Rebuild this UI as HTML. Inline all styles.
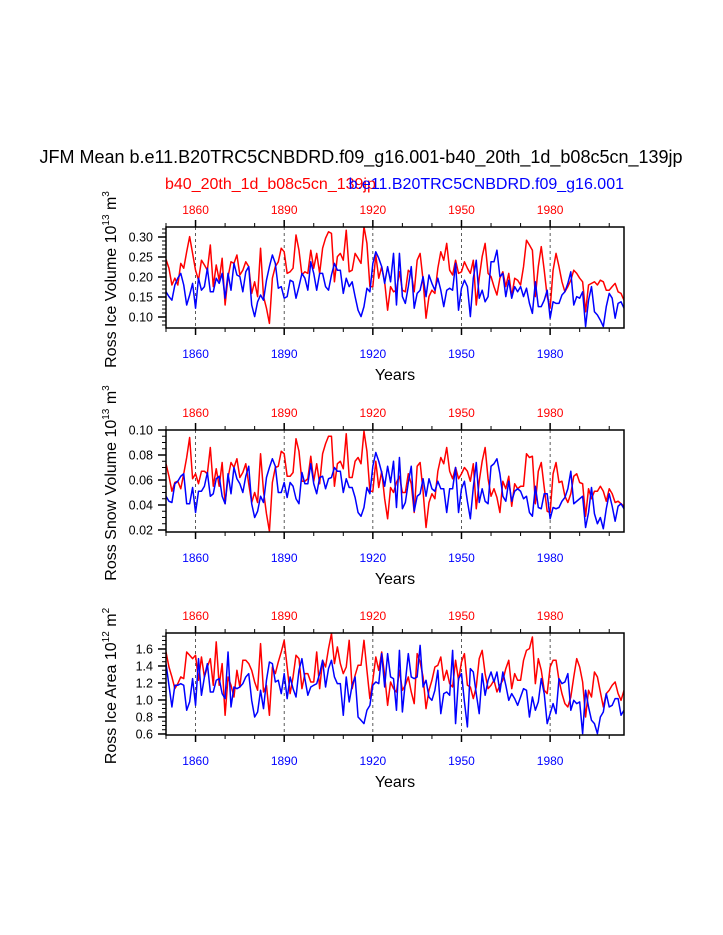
<!DOCTYPE html>
<html><head><meta charset="utf-8"><style>
body{margin:0;background:#fff}
svg{display:block;font-family:"Liberation Sans",Arial,sans-serif}
</style></head><body>
<svg id="chart" width="723" height="935" xmlns="http://www.w3.org/2000/svg">
<rect width="723" height="935" fill="#fff"/>
<text x="361" y="163" font-size="18" text-anchor="middle">JFM Mean b.e11.B20TRC5CNBDRD.f09_g16.001-b40_20th_1d_b08c5cn_139jp</text>
<text x="165" y="189" font-size="16" fill="#f00">b40_20th_1d_b08c5cn_139jp</text>
<text x="624" y="189" font-size="16" fill="#00f" text-anchor="end">b.e11.B20TRC5CNBDRD.f09_g16.001</text>
<g id="panels"></g>
</svg>
<script>
const startYear = 1850;
const iceVolRed = [.244,.222,.180,.197,.180,.234,.222,.263,.301,.259,.217,.192,.242,.230,.217,.280,.176,.230,.192,.247,.130,.201,.238,.234,.255,.205,.217,.238,.226,.159,.188,.151,.272,.151,.122,.084,.197,.226,.238,.272,.263,.209,.213,.222,.305,.267,.205,.213,.209,.267,.222,.259,.209,.272,.297,.313,.309,.188,.251,.259,.242,.317,.213,.217,.259,.247,.234,.326,.284,.176,.176,.255,.197,.226,.188,.117,.176,.163,.167,
.213,.167,.163,.217,.209,.163,.242,.259,.192,.097,.151,.167,.159,.222,.263,.242,.284,.217,.205,.242,.209,.213,.238,.222,.209,.242,.130,.197,.251,.284,.209,.201,.176,.155,.197,.213,.176,.209,.151,.197,.192,.180,.226,.292,.280,.267,.151,.226,.276,.217,.151,.122,.217,.259,.226,.188,.163,.176,.192,.217,.209,.197,.188,.113,.180,.184,.188,.180,.192,.188,.167,.167,.176,.184,.163,.159,.142];
const iceVolBlue = [.163,.151,.142,.180,.197,.209,.180,.130,.155,.184,.122,.197,.167,.176,.222,.163,.163,.197,.184,.209,.147,.209,.167,.234,.205,.201,.163,.213,.226,.130,.101,.138,.155,.142,.192,.226,.255,.234,.172,.176,.147,.151,.192,.188,.147,.176,.209,.197,.167,.238,.209,.167,.209,.209,.176,.167,.205,.234,.217,.217,.159,.197,.176,.188,.151,.117,.101,.126,.172,.163,.234,.263,.247,.226,.184,.226,.188,.259,.130,
.259,.151,.134,.176,.226,.122,.159,.167,.201,.151,.205,.184,.167,.197,.167,.126,.167,.172,.167,.234,.117,.172,.192,.176,.101,.197,.242,.147,.167,.138,.151,.238,.238,.267,.201,.209,.151,.192,.147,.176,.163,.176,.151,.172,.134,.109,.188,.126,.126,.142,.167,.097,.138,.134,.134,.155,.163,.184,.213,.130,.151,.147,.163,.076,.142,.176,.113,.105,.092,.076,.126,.159,.147,.097,.134,.138,.122];
const snowRed = [.073,.063,.051,.058,.059,.053,.065,.078,.094,.061,.065,.057,.067,.067,.065,.086,.055,.069,.055,.074,.041,.062,.074,.070,.077,.062,.066,.073,.057,.042,.050,.042,.081,.051,.033,.019,.058,.070,.071,.083,.081,.063,.063,.066,.093,.083,.059,.059,.061,.079,.059,.073,.057,.081,.089,.095,.095,.055,.073,.075,.069,.097,.062,.062,.075,.078,.073,.099,.083,.051,.051,.075,.054,.067,.045,.029,.054,.050,.058,
.063,.050,.050,.065,.057,.034,.071,.074,.051,.022,.042,.049,.045,.067,.078,.073,.086,.067,.061,.070,.061,.065,.070,.067,.059,.073,.037,.059,.075,.086,.061,.047,.053,.046,.034,.059,.053,.063,.039,.057,.053,.055,.055,.081,.078,.079,.041,.067,.074,.054,.035,.034,.065,.074,.058,.059,.047,.042,.049,.063,.065,.058,.057,.031,.053,.045,.051,.051,.055,.051,.043,.053,.049,.042,.043,.041,.039];
const snowBlue = [.047,.043,.042,.057,.059,.063,.065,.041,.041,.054,.034,.051,.051,.055,.066,.047,.049,.061,.063,.047,.041,.065,.049,.070,.061,.057,.050,.063,.071,.041,.030,.035,.047,.042,.062,.070,.077,.071,.050,.050,.058,.046,.058,.055,.045,.041,.066,.057,.057,.073,.057,.049,.062,.063,.053,.061,.062,.070,.067,.067,.050,.061,.054,.054,.046,.034,.031,.038,.054,.049,.071,.082,.075,.066,.055,.071,.058,.075,.038,
.078,.037,.042,.058,.071,.035,.047,.049,.061,.047,.061,.053,.051,.059,.053,.053,.034,.053,.053,.070,.034,.053,.059,.043,.029,.054,.074,.042,.053,.043,.041,.071,.073,.077,.065,.047,.043,.059,.043,.051,.053,.051,.045,.047,.034,.031,.055,.038,.037,.049,.049,.029,.038,.037,.038,.043,.046,.053,.067,.041,.043,.045,.047,.022,.034,.054,.033,.025,.030,.021,.037,.049,.039,.027,.039,.041,.037];
const areaRed = [1.565,1.388,1.271,1.133,1.192,1.271,1.251,1.565,1.526,1.486,1.526,1.232,1.506,1.271,1.388,1.486,1.173,1.683,1.173,1.428,0.820,1.271,1.173,1.035,1.349,1.153,1.467,1.467,1.428,1.349,1.212,1.114,1.663,1.094,1.173,0.820,1.388,1.310,1.447,1.565,1.702,1.388,1.075,1.271,1.526,1.486,1.133,1.310,1.310,1.212,1.212,1.565,1.133,1.467,1.388,1.604,1.781,1.428,1.624,1.428,1.310,1.388,1.702,1.133,1.290,1.408,1.408,1.702,1.349,1.016,1.232,1.506,1.349,1.565,1.290,0.937,1.212,1.133,1.094,
1.349,1.114,1.173,1.271,1.094,0.957,1.545,1.447,1.271,0.898,1.114,1.232,1.388,1.408,1.506,1.232,1.349,1.192,1.153,1.467,1.232,1.447,1.545,1.173,1.153,1.016,1.153,1.486,1.584,1.310,1.133,1.173,1.232,1.094,1.173,1.232,1.369,1.467,1.133,1.310,1.232,1.232,1.467,1.584,1.604,1.741,1.192,1.486,1.349,1.114,1.075,1.388,1.467,1.467,1.232,1.075,0.957,0.918,1.035,1.271,1.486,1.388,1.212,0.800,1.114,1.035,1.329,1.271,1.094,0.918,1.075,1.114,1.173,1.212,1.075,0.996,1.114];
const areaBlue = [1.428,1.173,0.918,1.173,1.173,1.192,1.173,0.879,0.977,1.251,0.937,1.486,1.055,1.271,1.428,1.094,1.094,1.232,1.251,1.075,1.016,1.565,0.918,1.153,1.133,1.153,1.192,1.271,1.310,0.996,0.800,0.859,1.114,0.898,1.232,1.447,1.428,1.212,1.232,1.075,1.310,1.016,1.271,1.133,1.035,1.349,1.486,1.251,1.055,1.153,1.173,1.192,1.310,1.467,1.153,1.369,1.467,1.271,1.192,1.192,0.820,1.271,0.977,1.173,1.271,0.800,0.761,0.722,0.879,0.937,1.173,1.212,1.192,1.545,1.153,1.545,1.271,1.251,0.879,
1.584,0.859,1.212,1.545,1.271,1.251,1.271,1.643,1.153,1.232,1.035,0.996,1.114,1.349,0.839,1.075,1.094,1.055,1.584,0.722,1.251,1.310,0.977,0.683,1.369,1.329,1.075,0.839,1.310,1.055,1.232,1.329,1.212,1.329,1.094,1.329,1.173,0.996,1.075,1.016,0.937,1.035,1.133,1.114,0.800,1.035,0.879,0.977,1.251,1.075,0.722,0.839,0.957,0.839,1.251,1.192,1.212,1.310,0.879,0.996,0.957,0.977,0.604,1.114,0.918,0.761,0.722,0.604,0.800,0.859,1.075,0.918,0.937,1.016,1.016,0.820,0.879];
const majorYears = [1860,1890,1920,1950,1980];
const iceTicks = [0.10,0.15,0.20,0.25,0.30];
const snowTicks = [0.02,0.04,0.06,0.08,0.10];
const areaTicks = [0.6,0.8,1.0,1.2,1.4,1.6];

const NS="http://www.w3.org/2000/svg";
const X0=166,X1=624,yearMin=1850,yearMax=2005;
const xs=y=>X0+(y-yearMin)/(yearMax-yearMin)*(X1-X0);
function mk(tag,attrs,parent){const e=document.createElementNS(NS,tag);for(const k in attrs)e.setAttribute(k,attrs[k]);parent.appendChild(e);return e;}
const root=document.getElementById('panels');

function panel(top,bot,vmin,vmax,ticks,minorStep,dec,red,blue,t1,unitExp,name){
  const g=mk('g',{},root);
  
  
  const ys=v=>bot-(v-vmin)/(vmax-vmin)*(bot-top);
  majorYears.forEach(yr=>{const l=mk('line',{x1:xs(yr),x2:xs(yr),y1:top,y2:bot,stroke:'#333','stroke-width':0.8,'stroke-dasharray':'3,3'},g);
    
    });
  for(let yr=1850;yr<=2000;yr+=10){const maj=majorYears.includes(yr);const L=maj?7:4;
    mk('line',{x1:xs(yr),x2:xs(yr),y1:top,y2:top-L,stroke:'#000','stroke-width':maj?1.5:1},g);
    mk('line',{x1:xs(yr),x2:xs(yr),y1:bot,y2:bot+L,stroke:'#000','stroke-width':maj?1.5:1},g);}
  majorYears.forEach(yr=>{
    const a=mk('text',{x:xs(yr),y:top-13,'font-size':12,fill:'#f00','text-anchor':'middle'},g);a.textContent=yr;
    
    
    const b=mk('text',{x:xs(yr),y:bot+30,'font-size':12,fill:'#00f','text-anchor':'middle'},g);b.textContent=yr;
    
    });
  for(let v=Math.ceil(vmin/minorStep)*minorStep;v<=vmax+1e-9;v+=minorStep){mk('line',{x1:X0,x2:X0-4,y1:ys(v),y2:ys(v),stroke:'#000','stroke-width':1},g);}
  ticks.forEach(v=>{mk('line',{x1:X0,x2:X0-8,y1:ys(v),y2:ys(v),stroke:'#000','stroke-width':1.5},g);
    const t=mk('text',{x:X0-13,y:ys(v)+4.5,'font-size':12.5,'text-anchor':'end'},g);t.textContent=v.toFixed(dec);
    
    });
  const cp=mk('clipPath',{id:'c'+name},g);mk('rect',{x:X0,y:top,width:X1-X0,height:bot-top},cp);
  const lg=mk('g',{'clip-path':'url(#c'+name+')'},g);
  const line=(arr,col,nm)=>{const p=mk('polyline',{points:arr.map((v,i)=>xs(startYear+i)+','+ys(v)).join(' '),fill:'none',stroke:col,'stroke-width':1.5,'stroke-linejoin':'round'},lg);
    
    };
  line(red,'#f00',name+'-red-line');
  line(blue,'#00f',name+'-blue-line');
  const fr=mk('rect',{x:X0,y:top,width:X1-X0,height:bot-top,fill:'none',stroke:'#000','stroke-width':1.5},g);
  
  
  const xt=mk('text',{x:(X0+X1)/2,y:bot+52,'font-size':16,'text-anchor':'middle'},g);xt.textContent='Years';
  
  
  const cy=(top+bot)/2+2;
  const yt=mk('text',{x:0,y:0,'font-size':16,'text-anchor':'middle',transform:`translate(116,${cy}) rotate(-90)`},g);
  
  
  yt.innerHTML=`${t1} 10<tspan font-size="10" dy="-7">${unitExp}</tspan><tspan dy="7"> m</tspan><tspan font-size="10" dy="-7">${name==='area'?'2':'3'}</tspan>`;
}
panel(227,328,0.0725,0.325,iceTicks,0.01,2,iceVolRed,iceVolBlue,'Ross Ice Volume','13','ice-volume');
panel(430,532,0.0184,0.10,snowTicks,0.005,2,snowRed,snowBlue,'Ross Snow Volume','13','snow-volume');
panel(633,735,0.588,1.788,areaTicks,0.05,1,areaRed,areaBlue,'Ross Ice Area','12','area');
</script>
</body></html>
